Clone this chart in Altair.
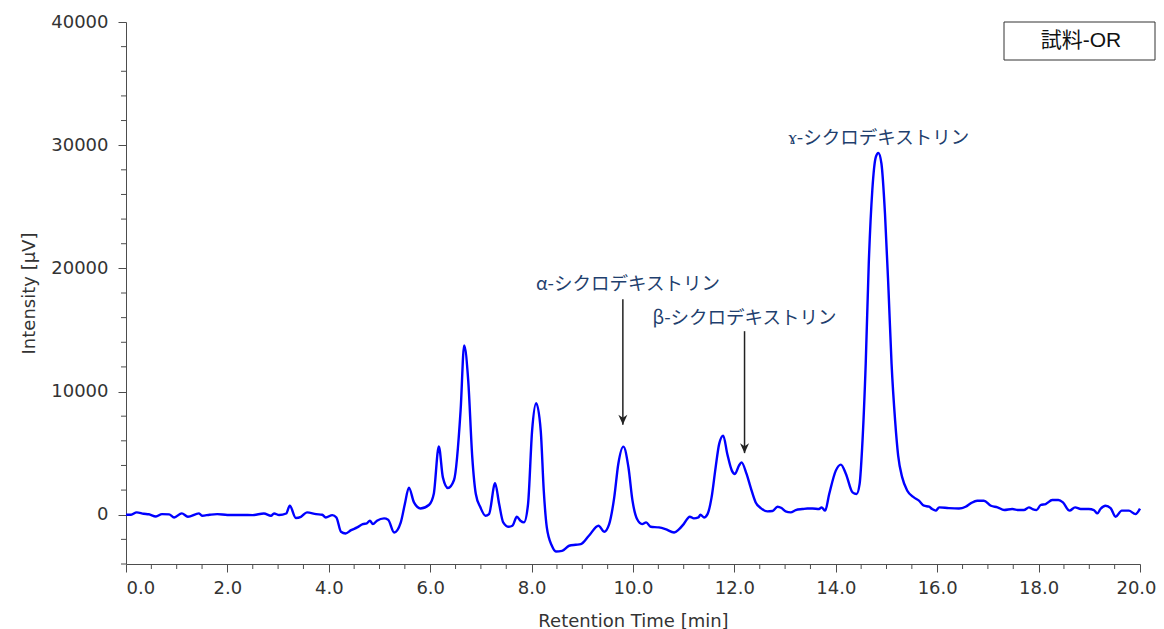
import altair as alt
import pandas as pd

# ---- chromatogram trace ----
times = [0.0, 0.1, 0.21, 0.35, 0.45, 0.59, 0.71, 0.85, 0.95, 1.1, 1.22, 1.44, 1.5, 1.65, 1.8,
         2.0, 2.3, 2.5, 2.72, 2.86, 2.92, 3.02, 3.16, 3.23, 3.35, 3.45, 3.57, 3.75, 3.87, 3.94,
         4.07, 4.15, 4.24, 4.33, 4.44, 4.56, 4.67, 4.75, 4.81, 4.87, 4.95, 5.09, 5.17, 5.29, 5.42,
         5.5, 5.58, 5.68, 5.81, 5.98, 6.07, 6.17, 6.25, 6.35, 6.47, 6.6, 6.67, 6.75, 6.83, 6.9,
         6.99, 7.09, 7.16, 7.28, 7.36, 7.44, 7.55, 7.62, 7.71, 7.78, 7.85, 7.93, 8.01, 8.09, 8.18,
         8.24, 8.3, 8.4, 8.48, 8.6, 8.74, 8.87, 8.97, 9.13, 9.32, 9.43, 9.53, 9.63, 9.71, 9.81,
         9.91, 9.99, 10.08, 10.18, 10.26, 10.35, 10.51, 10.64, 10.81, 10.91, 11.0, 11.12, 11.2,
         11.29, 11.33, 11.4, 11.47, 11.55, 11.63, 11.7, 11.78, 11.86, 11.95, 12.01, 12.09, 12.14,
         12.24, 12.32, 12.42, 12.52, 12.65, 12.75, 12.85, 12.93, 13.01, 13.11, 13.21, 13.34,
         13.44, 13.54, 13.67, 13.72, 13.79, 13.87, 14.0, 14.1, 14.2, 14.33, 14.41, 14.47, 14.52,
         14.59, 14.65, 14.72, 14.79, 14.84, 14.9, 14.97, 15.04, 15.1, 15.17, 15.23, 15.31, 15.41,
         15.54, 15.64, 15.74, 15.84, 15.9, 15.97, 16.04, 16.23, 16.43, 16.56, 16.66, 16.79, 16.92,
         17.06, 17.19, 17.32, 17.48, 17.61, 17.71, 17.81, 17.88, 17.96, 18.04, 18.14, 18.27,
         18.39, 18.48, 18.61, 18.72, 18.83, 18.99, 19.09, 19.16, 19.22, 19.32, 19.42, 19.52,
         19.64, 19.78, 19.91, 20.0]
intensity = [0, 0, 190, 80, 40, -140, 50, 30, -220, 110, -160, 110, -80, 0, 50,
             -20, -20, -30, 100, -80, 100, -20, 100, 730, -270, -170, 190, 50, 0, -220,
             -30, -220, -1380, -1520, -1250, -1030, -760, -700, -490, -760, -490, -300, -400, -1440, -620,
             870, 2200, 1000, 510, 810, 1680, 5550, 3030, 2170, 2820, 8500, 13740, 10890, 4660, 1680,
             600, -80, 50, 2550, 870, -620, -980, -900, -160, -490, -620, 870, 6830, 9050, 6830,
             1950, -1030, -2520, -2980, -2930, -2520, -2440, -2390, -1710, -890, -1380, -760, 1410, 4120, 5530,
             3850, 1140, -350, -760, -620, -980, -1030, -1170, -1440, -1170, -760, -160, -300,
             -220, 0, -220, 50, 1410, 3850, 5750, 6420, 4930, 3580, 3310, 3980, 4250,
             3310, 2220, 1000, 540, 270, 300, 650, 540, 270, 190, 380, 460,
             510, 510, 460, 600, 330, 1680, 3580, 4070, 3310, 1810, 1680, 2500, 5470,
             12250, 20380, 26340, 29050, 29370, 28510, 24450, 18210, 12250, 7640, 4800, 3030, 1950,
             1410, 1140, 730, 650, 460, 330, 600, 540, 510, 650, 920, 1140, 1140,
             730, 600, 380, 460, 380, 380, 600, 460, 380, 790, 870, 1190,
             1190, 1000, 330, 600, 460, 460, 380, 110, 460, 730, 540, -160,
             330, 330, 50, 500]

# ---- annotations ----
peak_labels = ["α-シクロデキストリン", "β-シクロデキストリン", "ɤ-シクロデキストリン"]
label_time = [9.9, 12.2, 14.85]
label_int = [18750, 15950, 30600]

arrow_time = [9.8, 12.2]
arrow_top = [17500, 14900]
arrow_tip = [7300, 5000]

sample_name = ["試料-OR"]

# ---- axis tick values ----
x_major = [0.0, 2.0, 4.0, 6.0, 8.0, 10.0, 12.0, 14.0, 16.0, 18.0, 20.0]
x_minor = [0.5, 1.0, 1.5, 2.5, 3.0, 3.5, 4.5, 5.0, 5.5, 6.5, 7.0, 7.5, 8.5, 9.0, 9.5,
           10.5, 11.0, 11.5, 12.5, 13.0, 13.5, 14.5, 15.0, 15.5, 16.5, 17.0, 17.5,
           18.5, 19.0, 19.5]
y_major = [0, 10000, 20000, 30000, 40000]
y_minor = [-4000, -2000, 2000, 4000, 6000, 8000, 12000, 14000, 16000, 18000, 22000, 24000,
           26000, 28000, 32000, 34000, 36000, 38000]

trace = pd.DataFrame({"t": times, "v": intensity})
labels_df = pd.DataFrame({"t": label_time, "v": label_int, "label": peak_labels})
arrows_df = pd.DataFrame({"t": arrow_time, "top": arrow_top, "tip": arrow_tip})
box_df = pd.DataFrame({"name": sample_name})
xminor_df = pd.DataFrame({"t": x_minor})
yminor_df = pd.DataFrame({"v": y_minor})

FONT = "DejaVu Sans"
AX_COL = "#4d4d4d"
TXT_COL = "#333333"
W, H = 1014, 542

x_scale = alt.Scale(domain=[0, 20], nice=False, zero=False)
y_scale = alt.Scale(domain=[-4000, 40000], nice=False, zero=False)

x_axis = alt.Axis(
    values=x_major, format=".1f", tickSize=8,
    labelAlign={"condition": {"test": "datum.value === 0", "value": "left"}, "value": "center"},
    labelOffset={"condition": {"test": "datum.value === 20", "value": -4}, "value": 0},
    labelFlush=False, labelOverlap=False, grid=False,
    title="Retention Time [min]", titlePadding=15, labelPadding=7,
)
y_axis = alt.Axis(
    values=y_major, format="d", tickSize=8,
    labelFlush=False, labelOverlap=False, grid=False,
    title="Intensity [μV]", titlePadding=12, labelPadding=10,
)

line = alt.Chart(trace).mark_line(color="#0000ff", strokeWidth=2.4, interpolate="monotone").encode(
    x=alt.X("t:Q", scale=x_scale, axis=x_axis),
    y=alt.Y("v:Q", scale=y_scale, axis=y_axis),
)

x_minor_ticks = alt.Chart(xminor_df).mark_rule(color=AX_COL, strokeWidth=1).encode(
    x=alt.X("t:Q", scale=x_scale),
    y=alt.value(H), y2=alt.value(H + 5),
)
y_minor_ticks = alt.Chart(yminor_df).mark_rule(color=AX_COL, strokeWidth=1).encode(
    y=alt.Y("v:Q", scale=y_scale),
    x=alt.value(0), x2=alt.value(-5),
)

arrow_lines = alt.Chart(arrows_df).mark_rule(color="#222222", strokeWidth=1.5).encode(
    x=alt.X("t:Q", scale=x_scale),
    y=alt.Y("top:Q", scale=y_scale),
    y2="tip:Q",
)

arrow_heads = alt.Chart(arrows_df).mark_point(
    shape="M0,0 L-0.9,-2 L0,-1.4 L0.9,-2 Z", size=100, filled=True, color="#222222", opacity=1
).encode(
    x=alt.X("t:Q", scale=x_scale),
    y=alt.Y("tip:Q", scale=y_scale),
)

peak_text = alt.Chart(labels_df).mark_text(
    font="Noto Sans CJK JP", fontSize=18.5, color="#1f3f6e", align="center", baseline="middle"
).encode(
    x=alt.X("t:Q", scale=x_scale),
    y=alt.Y("v:Q", scale=y_scale),
    text="label:N",
)

box = alt.Chart(box_df).mark_rect(fill="white", stroke="#333333", strokeWidth=1).encode(
    x=alt.value(878), x2=alt.value(1029), y=alt.value(0), y2=alt.value(38)
)
box_text = alt.Chart(box_df).mark_text(
    font="Liberation Sans, Noto Sans CJK JP", fontSize=21, color="#111111",
    align="center", baseline="middle"
).encode(
    x=alt.value(955), y=alt.value(19), text="name:N"
)

chart = alt.layer(line, x_minor_ticks, y_minor_ticks, arrow_lines, arrow_heads, peak_text,
                  box, box_text).properties(
    width=W, height=H,
    autosize=alt.AutoSizeParams(type="none"),
    padding={"left": 118, "top": 14, "right": 16, "bottom": 65},
).configure_view(stroke=None).configure_axis(
    domainColor=AX_COL, tickColor=AX_COL, labelColor=TXT_COL, titleColor=TXT_COL,
    labelFont=FONT, titleFont=FONT, labelFontSize=18, titleFontSize=18,
    titleFontWeight="normal", domainWidth=1, tickWidth=1,
)

chart.save("out.html", embed_options={"renderer": "svg", "actions": False})
